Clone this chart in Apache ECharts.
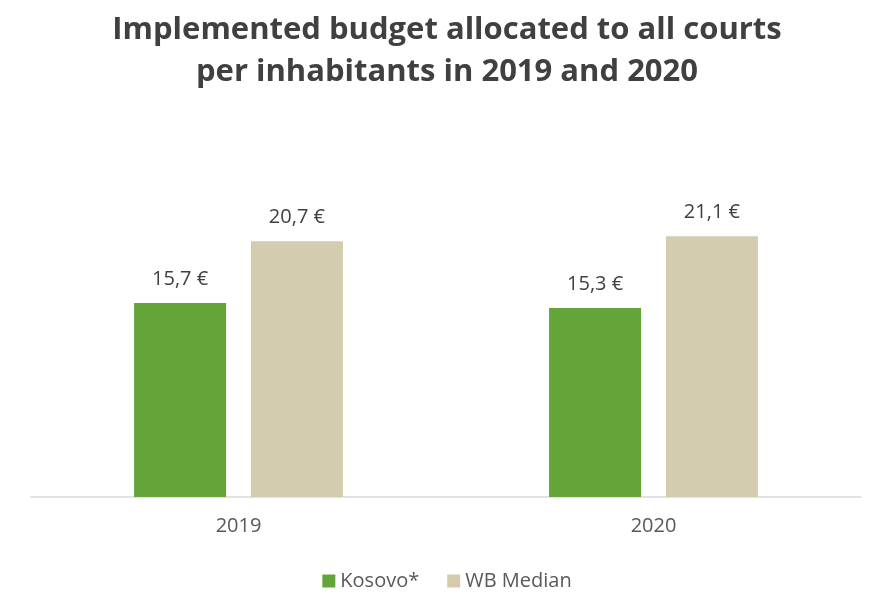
<!DOCTYPE html>
<html>
<head>
<meta charset="utf-8">
<script src="https://cdn.jsdelivr.net/npm/echarts@6/dist/echarts.min.js"></script>
<style>
  html, body { margin: 0; padding: 0; background: #ffffff; }
  #chart { width: 894px; height: 598px; }
</style>
</head>
<body>
<div id="chart"></div>
<script>
// Court budget per inhabitant (EUR)
const years = ['2019', '2020'];
const kosovo = [15.7, 15.3];
const wbMedian = [20.7, 21.1];
const seriesNames = ['Kosovo*', 'WB Median'];

const FONT = '"Open Sans", Lato, sans-serif';
const fmtEuro = p => p.value.toFixed(1).replace('.', ',') + ' €';

const chart = echarts.init(document.getElementById('chart'));
chart.setOption({
  backgroundColor: '#ffffff',
  animation: false,
  title: {
    text: 'Implemented budget allocated to all courts\nper inhabitants in 2019 and 2020',
    left: 'center',
    top: 4,
    textStyle: {
      fontFamily: FONT,
      fontSize: 31,
      fontWeight: 'bold',
      color: '#404040',
      lineHeight: 42
    }
  },
  legend: {
    bottom: 2,
    left: 'center',
    itemWidth: 13,
    itemHeight: 13,
    itemGap: 28,
    icon: 'rect',
    textStyle: { fontFamily: FONT, fontSize: 20, color: '#595959' },
    data: seriesNames
  },
  grid: { left: 31, right: 33, top: 188, bottom: 101 },
  xAxis: {
    type: 'category',
    data: years,
    axisLine: { lineStyle: { color: '#d9d9d9', width: 1.5 } },
    axisTick: { show: false },
    axisLabel: { fontFamily: FONT, fontSize: 20, color: '#595959', margin: 19 }
  },
  yAxis: {
    type: 'value',
    min: 0,
    max: 25,
    show: false,
    splitLine: { show: false }
  },
  series: [
    {
      name: seriesNames[0],
      type: 'bar',
      data: kosovo,
      barWidth: 92,
      barGap: '27%',
      itemStyle: { color: '#63a538' },
      label: {
        show: true, position: 'top', distance: 14,
        formatter: fmtEuro,
        fontFamily: FONT, fontSize: 20, color: '#404040'
      }
    },
    {
      name: seriesNames[1],
      type: 'bar',
      data: wbMedian,
      barWidth: 92,
      itemStyle: { color: '#d3ccae' },
      label: {
        show: true, position: 'top', distance: 14,
        formatter: fmtEuro,
        fontFamily: FONT, fontSize: 20, color: '#404040'
      }
    }
  ]
});
</script>
</body>
</html>
